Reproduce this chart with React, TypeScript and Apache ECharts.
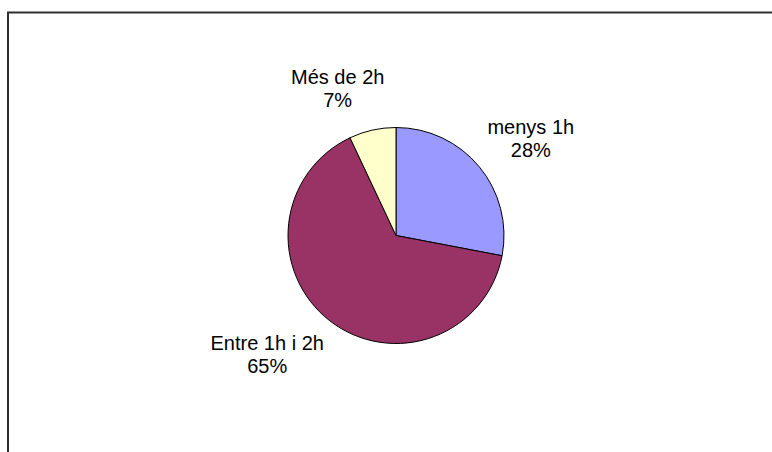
import React, { useEffect, useRef } from "react";
import * as echarts from "echarts";

const categories = ["menys 1h", "Entre 1h i 2h", "Més de 2h"];
const values = [28, 65, 7];
const colors = ["#9999FF", "#993366", "#FFFFCC"];

// layout (pixels)
const CX = 396;
const CY = 235.5;
const R = 108;
const GAP = 21;
const labelNudge = [
  [2, 0],
  [-15, -1],
  [-20, 1],
];

export default function App() {
  const ref = useRef<HTMLDivElement>(null);
  useEffect(() => {
    if (!ref.current) return;
    const chart = echarts.init(ref.current, undefined, { renderer: "svg" });
    const total = values.reduce((a, b) => a + b, 0);
    const midAngles: number[] = [];
    let acc = 0;
    values.forEach((v) => {
      midAngles.push(((acc + v / 2) / total) * Math.PI * 2);
      acc += v;
    });
    chart.setOption({
      animation: false,
      backgroundColor: "#ffffff",
      graphic: [
        {
          type: "polyline",
          shape: { points: [[8, 452], [8, 12.5], [772, 12.5]] },
          style: { stroke: "#2e2e2e", lineWidth: 2, fill: "none" },
        },
      ],
      series: [
        {
          type: "pie",
          center: [CX, CY],
          radius: R,
          startAngle: 90,
          clockwise: true,
          percentPrecision: 0,
          itemStyle: { borderColor: "#000000", borderWidth: 1 },
          label: {
            show: true,
            position: "outside",
            formatter: "{b}\n{d}%",
            fontFamily: "'Liberation Sans', Arial, sans-serif",
            fontSize: 20,
            lineHeight: 23,
            color: "#000000",
            align: "center",
          },
          labelLine: { show: false },
          labelLayout: (params: any) => {
            const i = params.dataIndex;
            const a = midAngles[i];
            const ux = Math.sin(a);
            const uy = -Math.cos(a);
            const w = params.labelRect.width;
            const h = params.labelRect.height;
            return {
              x: CX + (R + GAP) * ux + (ux * w) / 2 + labelNudge[i][0],
              y: CY + (R + GAP) * uy + (uy * h) / 2 + labelNudge[i][1],
              align: "center",
              verticalAlign: "middle",
            };
          },
          data: categories.map((name, i) => ({
            name,
            value: values[i],
            itemStyle: { color: colors[i] },
          })),
        },
      ],
    });
    return () => chart.dispose();
  }, []);
  return (
    <div
      ref={ref}
      style={{ position: "absolute", left: 0, top: 0, width: 772, height: 452 }}
    />
  );
}
